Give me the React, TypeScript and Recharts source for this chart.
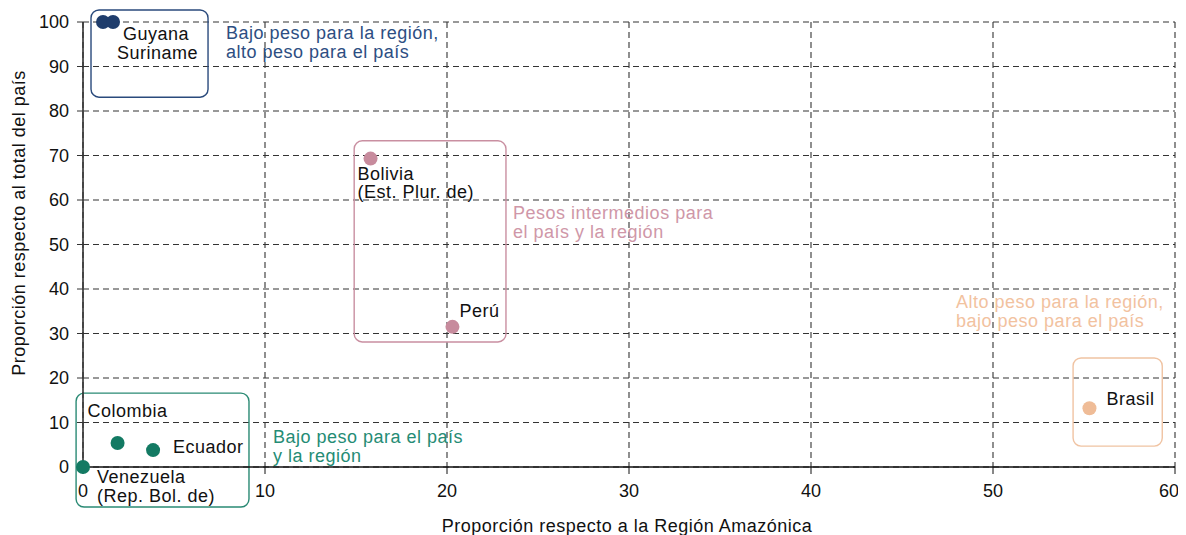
import React from 'react';
import {
  ScatterChart,
  Scatter,
  XAxis,
  YAxis,
  CartesianGrid,
  ReferenceArea,
  ReferenceDot,
} from 'recharts';

// Share of the Amazon region (x) vs share of the country's total (y)
const countries = ['Guyana', 'Suriname', 'Bolivia', 'Perú', 'Brasil', 'Colombia', 'Ecuador', 'Venezuela'];
const regionShare = [1.1, 1.65, 15.8, 20.3, 55.3, 1.9, 3.85, 0];
const countryShare = [100, 100, 69.3, 31.5, 13.2, 5.4, 3.8, 0];
const groupOf = ['alto', 'alto', 'medio', 'medio', 'region', 'bajo', 'bajo', 'bajo'];

const xTicks = [0, 10, 20, 30, 40, 50, 60];
const yTicks = [0, 10, 20, 30, 40, 50, 60, 70, 80, 90, 100];

const FONT = '"Liberation Sans", Arial, Helvetica, sans-serif';
const FS = 18;
const LS = 0.5;
const LINE = 18.8;

const groupColors: Record<string, { dot: string; box: string; text: string }> = {
  alto: { dot: '#1f3d6c', box: '#2a4a7c', text: '#2d4e82' },
  medio: { dot: '#c78b9d', box: '#c98fa1', text: '#cf97a8' },
  region: { dot: '#efbc97', box: '#f0c3a2', text: '#f2c29f' },
  bajo: { dot: '#137a63', box: '#2a8a74', text: '#258c75' },
};

// label lines and offsets from the dot centre (px)
const pointLabels: Record<string, { lines: string[]; dx: number; dy: number }> = {
  Guyana: { lines: ['Guyana'], dx: 20, dy: 18 },
  Suriname: { lines: ['Suriname'], dx: 4, dy: 37 },
  Bolivia: { lines: ['Bolivia', '(Est. Plur. de)'], dx: -13, dy: 21 },
  'Perú': { lines: ['Perú'], dx: 7, dy: -10 },
  Brasil: { lines: ['Brasil'], dx: 17, dy: -3 },
  Colombia: { lines: ['Colombia'], dx: -30, dy: -26 },
  Ecuador: { lines: ['Ecuador'], dx: 20, dy: 3 },
  Venezuela: { lines: ['Venezuela', '(Rep. Bol. de)'], dx: 14, dy: 16 },
};

// group boxes, data coordinates
const boxes = [
  { group: 'alto', x1: 0.44, x2: 6.87, y1: 83.1, y2: 102.7 },
  { group: 'medio', x1: 14.9, x2: 23.24, y1: 28.1, y2: 73.3 },
  { group: 'region', x1: 54.4, x2: 59.3, y1: 4.7, y2: 24.5 },
  { group: 'bajo', x1: -0.38, x2: 9.12, y1: -9.0, y2: 16.6 },
];

const notes = [
  { group: 'alto', x: 7.86, y: 96.2, lines: ['Bajo peso para la región,', 'alto peso para el país'] },
  { group: 'medio', x: 23.63, y: 55.7, lines: ['Pesos intermedios para', 'el país y la región'] },
  { group: 'region', x: 47.97, y: 35.7, lines: ['Alto peso para la región,', 'bajo peso para el país'] },
  { group: 'bajo', x: 10.44, y: 5.4, lines: ['Bajo peso para el país', 'y la región'] },
];

const points = countries.map((name, i) => ({
  name,
  x: regionShare[i],
  y: countryShare[i],
  group: groupOf[i],
}));

const groupOrder = ['alto', 'medio', 'region', 'bajo'];

function Dot(props: any) {
  const { cx, cy, payload } = props;
  if (cx == null || cy == null) return null;
  const lab = pointLabels[payload.name];
  return (
    <g>
      <circle cx={cx} cy={cy} r={7} fill={groupColors[payload.group].dot} />
      {lab &&
        lab.lines.map((l, i) => (
          <text
            key={i}
            x={cx + lab.dx}
            y={cy + lab.dy + i * LINE}
            fontSize={FS}
            letterSpacing={LS}
            fill="#111"
            fontFamily={FONT}
          >
            {l}
          </text>
        ))}
    </g>
  );
}

export default function App() {
  return (
    <div style={{ width: 1170, height: 527, fontFamily: FONT }}>
      <ScatterChart width={1170} height={527} margin={{ top: 14, right: 3, bottom: 0, left: 0 }}>
        <CartesianGrid stroke="#333" strokeDasharray="6 4" strokeWidth={1.1} />
        <XAxis
          type="number"
          dataKey="x"
          domain={[0, 60]}
          ticks={xTicks}
          height={68}
          tickSize={7}
          tickMargin={10}
          axisLine={{ stroke: '#111', strokeWidth: 1.4 }}
          tickLine={{ stroke: '#111' }}
          tick={{ fontSize: FS, fill: '#111', fontFamily: FONT }}
          label={{
            content: () => (
              <text x={619} y={524} textAnchor="middle" fontSize={FS} letterSpacing={LS} fill="#111" fontFamily={FONT}>
                Proporción respecto a la Región Amazónica
              </text>
            ),
          }}
        />
        <YAxis
          type="number"
          dataKey="y"
          domain={[0, 100]}
          ticks={yTicks}
          width={75}
          tickSize={6}
          tickMargin={8}
          axisLine={{ stroke: '#333', strokeWidth: 1.6 }}
          tickLine={{ stroke: '#333' }}
          tick={{ fontSize: FS, fill: '#111', fontFamily: FONT }}
          label={{
            content: () => (
              <text
                x={11}
                y={215}
                transform="rotate(-90 11 215)"
                textAnchor="middle"
                dominantBaseline="central"
                fontSize={FS}
                letterSpacing={LS}
                fill="#111"
                fontFamily={FONT}
              >
                Proporción respecto al total del país
              </text>
            ),
          }}
        />
        {boxes.map((b) => (
          <ReferenceArea
            key={b.group}
            x1={b.x1}
            x2={b.x2}
            y1={b.y1}
            y2={b.y2}
            ifOverflow="visible"
            shape={(p: any) => (
              <rect
                x={p.x}
                y={p.y}
                width={p.width}
                height={p.height}
                rx={8}
                ry={8}
                fill="none"
                stroke={groupColors[b.group].box}
                strokeWidth={1.4}
              />
            )}
          />
        ))}
        {notes.map((n) => (
          <ReferenceDot
            key={n.group}
            x={n.x}
            y={n.y}
            r={0}
            ifOverflow="visible"
            shape={(p: any) => (
              <g>
                {n.lines.map((l, i) => (
                  <text
                    key={i}
                    x={p.cx}
                    y={p.cy + i * LINE}
                    fontSize={FS}
                    letterSpacing={LS}
                    fill={groupColors[n.group].text}
                    fontFamily={FONT}
                  >
                    {l}
                  </text>
                ))}
              </g>
            )}
          />
        ))}
        {groupOrder.map((g) => (
          <Scatter
            key={g}
            data={points.filter((p) => p.group === g)}
            shape={Dot}
            isAnimationActive={false}
          />
        ))}
      </ScatterChart>
    </div>
  );
}
